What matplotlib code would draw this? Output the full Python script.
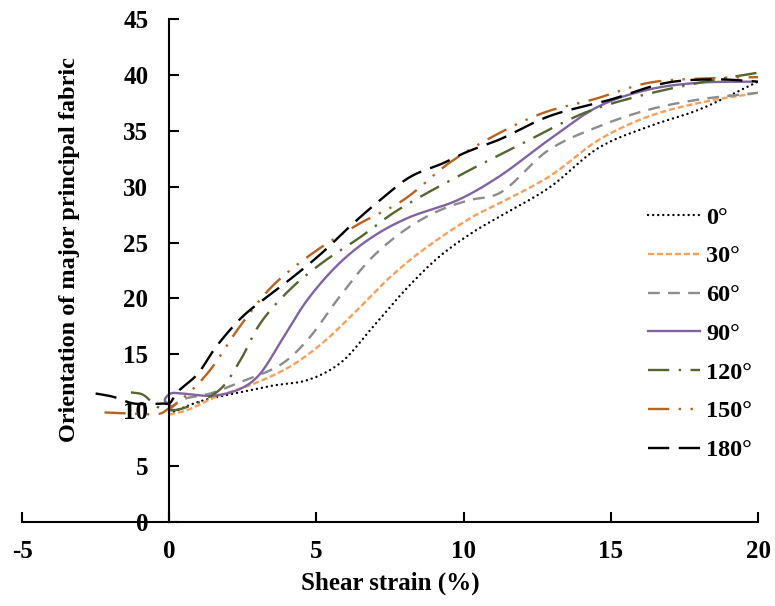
import numpy as np
import matplotlib
matplotlib.use("Agg")
import matplotlib.pyplot as plt

plt.rcParams["font.family"] = ["Liberation Serif", "DejaVu Serif"]
plt.rcParams["font.weight"] = "bold"
plt.rcParams["axes.unicode_minus"] = False

# Shear strain (%) and orientation of major principal fabric (deg) for each loading angle
strain_0 = [0.0, 1.05, 2.4, 3.5, 4.7, 5.8, 6.9, 8.1, 9.2, 10.3, 11.2, 12.9, 14.6, 16.3, 18.0, 20.0]
fabric_0 = [9.7, 10.8, 11.6, 12.2, 12.7, 14.2, 17.4, 21.0, 23.8, 25.9, 27.3, 29.9, 33.5, 35.4, 36.9, 39.4]

strain_30 = [0.0, 0.6, 1.5, 2.9, 4.1, 5.2, 6.4, 7.5, 8.6, 10.3, 11.2, 12.9, 14.6, 16.3, 18.0, 20.0]
fabric_30 = [9.6, 10.0, 11.1, 12.4, 13.9, 16.0, 19.0, 21.9, 24.3, 27.3, 28.5, 30.9, 34.2, 36.3, 37.5, 38.4]

strain_60 = [0.0, 0.4, 1.4, 2.4, 3.8, 4.7, 5.8, 6.9, 8.1, 9.2, 10.2, 11.2, 12.9, 14.6, 16.3, 18.0, 20.0]
fabric_60 = [10.0, 10.9, 11.5, 12.5, 14.1, 16.3, 20.2, 23.7, 26.3, 27.9, 28.8, 29.4, 33.3, 35.4, 36.9, 37.8, 38.4]

strain_90 = [0.05, -0.15, 0.05, 0.4, 1.5, 2.4, 3.0, 3.9, 4.7, 5.8, 6.9, 8.1, 9.8, 11.2, 12.9, 14.6, 16.3, 18.0, 19.8]
fabric_90 = [10.4, 10.9, 11.5, 11.5, 11.3, 11.9, 13.0, 16.6, 19.9, 23.2, 25.5, 27.2, 28.8, 30.9, 34.2, 37.2, 38.7, 39.3, 39.4]

strain_120 = [-1.3, -0.9, -0.4, 0.0, 0.5, 1.7, 2.4, 3.1, 4.1, 5.2, 6.5, 7.7, 10.0, 11.8, 14.1, 15.8, 18.0, 20.0]
fabric_120 = [11.6, 11.4, 10.3, 10.0, 10.2, 11.8, 14.4, 17.8, 20.8, 23.2, 25.5, 27.8, 31.2, 33.6, 36.6, 38.0, 39.3, 40.2]

strain_150 = [-2.2, -1.2, -0.3, 0.0, 0.3, 1.3, 2.4, 3.5, 4.9, 6.4, 7.95, 9.5, 11.0, 12.7, 14.4, 16.3, 18.3, 20.0]
fabric_150 = [9.8, 9.7, 9.7, 10.2, 10.7, 13.3, 17.5, 21.1, 24.1, 26.6, 28.8, 32.1, 34.5, 36.6, 37.8, 39.3, 39.7, 39.8]

strain_180 = [-2.5, -1.9, -1.2, -0.2, 0.0, 0.27, 0.95, 1.6, 2.5, 3.3, 4.1, 5.2, 6.2, 7.3, 8.2, 9.3, 10.1, 11.2, 12.9, 15.0, 16.9, 18.6, 20.0]
fabric_180 = [11.5, 11.2, 10.6, 10.6, 10.6, 11.6, 13.2, 15.7, 18.4, 20.1, 21.7, 24.1, 26.6, 29.1, 30.9, 32.1, 33.1, 34.2, 36.3, 37.8, 39.3, 39.6, 39.4]

labels = ["0°", "30°", "60°", "90°", "120°", "150°", "180°"]
xs = [strain_0, strain_30, strain_60, strain_90, strain_120, strain_150, strain_180]
ys = [fabric_0, fabric_30, fabric_60, fabric_90, fabric_120, fabric_150, fabric_180]

colors = ["#000000", "#F7A05A", "#8C8C8C", "#8064A2", "#53662E", "#B8621E", "#000000"]
styles = [
    (0, (0.05, 2.1)),
    (0, (2.6, 1.2)),
    (0, (5, 3.5)),
    "-",
    (0, (9, 4, 1, 4)),
    (0, (9, 4, 1, 4, 1, 4)),
    (0, (9, 4)),
]
caps = ["round", "butt", "butt", "butt", "butt", "butt", "butt"]

# scale factors so the spline parametrisation works in near-screen proportions
SX, SY = 29.45, 11.17


def smooth(x, y, n=24, alpha=0.5):
    """Centripetal Catmull-Rom curve through the points (a smoothed line)."""
    p = np.column_stack([np.asarray(x) * SX, np.asarray(y) * SY]).astype(float)
    p = np.vstack([2 * p[0] - p[1], p, 2 * p[-1] - p[-2]])
    out = []
    for i in range(1, len(p) - 2):
        p0, p1, p2, p3 = p[i - 1], p[i], p[i + 1], p[i + 2]
        t0 = 0.0
        t1 = t0 + max(np.linalg.norm(p1 - p0), 1e-6) ** alpha
        t2 = t1 + max(np.linalg.norm(p2 - p1), 1e-6) ** alpha
        t3 = t2 + max(np.linalg.norm(p3 - p2), 1e-6) ** alpha
        t = np.linspace(t1, t2, n, endpoint=False)[:, None]
        a1 = (t1 - t) / (t1 - t0) * p0 + (t - t0) / (t1 - t0) * p1
        a2 = (t2 - t) / (t2 - t1) * p1 + (t - t1) / (t2 - t1) * p2
        a3 = (t3 - t) / (t3 - t2) * p2 + (t - t2) / (t3 - t2) * p3
        b1 = (t2 - t) / (t2 - t0) * a1 + (t - t0) / (t2 - t0) * a2
        b2 = (t3 - t) / (t3 - t1) * a2 + (t - t1) / (t3 - t1) * a3
        c = (t2 - t) / (t2 - t1) * b1 + (t - t1) / (t2 - t1) * b2
        out.append(c)
    out.append(p[-2][None, :])
    out = np.vstack(out)
    return out[:, 0] / SX, out[:, 1] / SY


fig = plt.figure(figsize=(7.75, 6.06), dpi=100)
ax = fig.add_axes([0.0284, 0.1386, 0.9497, 0.83])

for x, y, lab, c, ls, cs in zip(xs, ys, labels, colors, styles, caps):
    sx, sy = smooth(x, y)
    ax.plot(sx, sy, color=c, linestyle=ls, linewidth=1.7, label=lab,
            dash_capstyle=cs)

ax.set_xlim(-5, 20)
ax.set_ylim(0, 45)
ax.set_xticks([-5, 0, 5, 10, 15, 20])
ax.set_yticks(range(0, 46, 5))

ax.spines["top"].set_visible(False)
ax.spines["right"].set_visible(False)
ax.spines["left"].set_position(("data", 0))
ax.spines["left"].set_linewidth(1.5)
ax.spines["bottom"].set_linewidth(1.5)

ax.tick_params(axis="x", direction="in", length=7, width=1.5, labelsize=18, pad=13)
ax.tick_params(axis="y", direction="in", length=7, width=1.5, labelsize=18, pad=15)
for t in ax.get_xticklabels() + ax.get_yticklabels():
    t.set_fontweight("bold")

ax.set_xlabel("Shear strain (%)", fontsize=18, fontweight="bold", labelpad=6)
fig.text(0.09, 0.5875, "Orientation of major principal fabric", rotation=90,
         fontsize=17.5, fontweight="bold", ha="center", va="center")

leg = fig.legend(loc="center left", bbox_to_anchor=(0.836, 0.449), frameon=False,
                 handlelength=2.15, handletextpad=0.25, labelspacing=0.69,
                 borderpad=0, borderaxespad=0,
                 prop={"weight": "bold", "size": 17.5})

fig.savefig("out.png", dpi=100)
